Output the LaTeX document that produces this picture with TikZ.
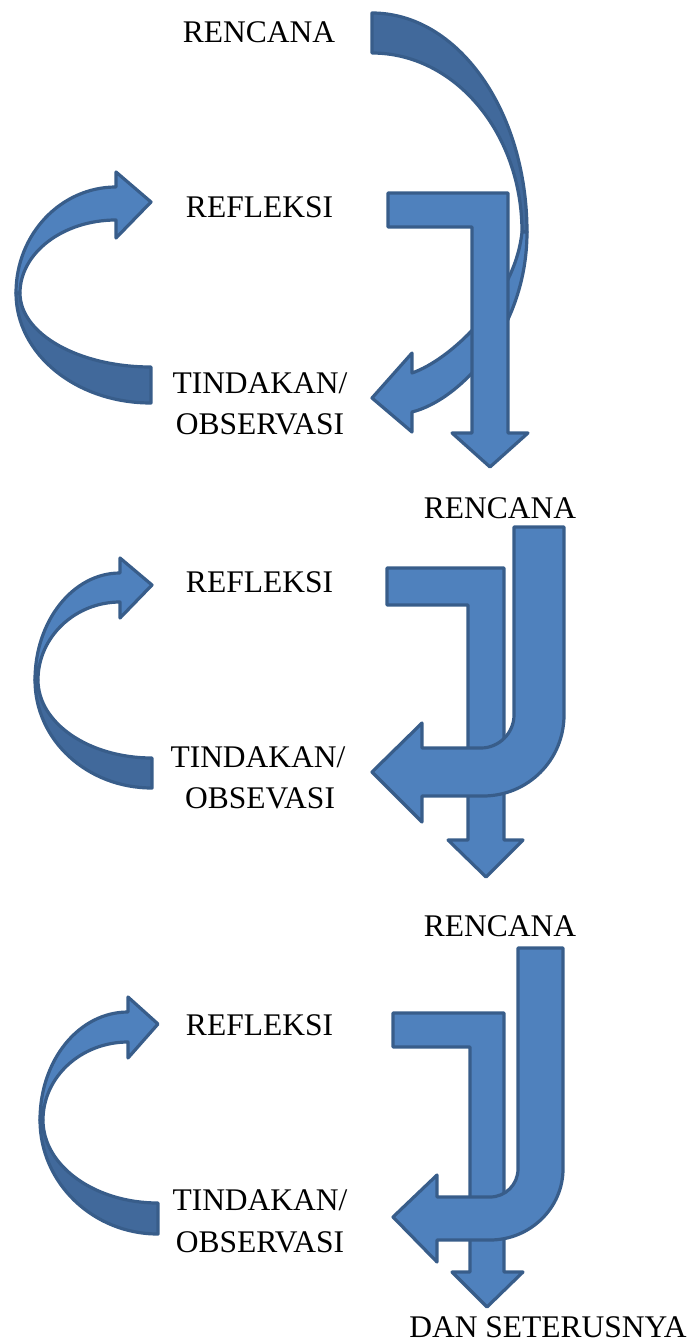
\documentclass[tikz,border=0pt]{standalone}
\usepackage{fontspec}
\setmainfont{Liberation Serif}
\definecolor{frontblue}{HTML}{4F81BD}
\definecolor{backblue}{HTML}{41699B}
\definecolor{edgeblue}{HTML}{385D8A}
\tikzset{
  face/.style={fill=frontblue, draw=edgeblue, line width=3.2pt, line join=round},
  backface/.style={fill=backblue, draw=edgeblue, line width=3.2pt, line join=round},
  lbl/.style={font=\fontsize{31.5}{38}\selectfont, inner sep=0pt, anchor=base, text=black}
}
\begin{document}
\begin{tikzpicture}[x=1pt,y=-1pt]
\useasboundingbox (0,0) rectangle (694,1343);

% ===== Block 1 =====
% top curved arrow (back face)
\path[backface] (372,13) .. controls (458,13) and (527,111) .. (527,232)
  -- (522,232) .. controls (522,133) and (455,53) .. (372,53) -- cycle;
% top curved arrow (front face with head)
\path[face] (527,232) .. controls (527,330) and (460,400) .. (412,412)
  -- (412,432) -- (372,398) -- (412,353) -- (412,373)
  .. controls (450,360) and (515,300) .. (522,232) -- cycle;
% bent arrow
\path[face] (388,193) -- (508,193) -- (508,433) -- (528,433) -- (490,467)
  -- (452,433) -- (472,433) -- (472,227) -- (388,227) -- cycle;
% left curved arrow
\path[backface] (16,293) .. controls (16,354) and (76,403) .. (151,403)
  -- (151,367) .. controls (79,367) and (20,334) .. (20,293) -- cycle;
\path[face] (116,187) .. controls (61,187) and (16,234) .. (16,293)
  -- (20,293) .. controls (20,253) and (63,220) .. (116,220)
  -- (116,238) -- (151,202) -- (116,172) -- cycle;

\node[lbl] (ren1) at (259,43) {RENCANA};
\node[lbl] (ref1) at (259.5,217) {REFLEKSI};
\node[lbl] (tin1) at (260,393) {TINDAKAN/};
\node[lbl] (obs1) at (260,434) {OBSERVASI};

% ===== Block 2 =====
\path[face] (387,568) -- (504,568) -- (504,840) -- (523,840) -- (486,877)
  -- (448,840) -- (468,840) -- (468,605) -- (387,605) -- cycle;
\path[face] (514,527) -- (564,527) -- (564,715) .. controls (564,760) and (528,796) .. (483,796)
  -- (422,796) -- (422,822) -- (372,772) -- (422,723) -- (422,748) -- (481,748)
  .. controls (499,748) and (514,733) .. (514,715) -- cycle;
\path[backface] (35,680) .. controls (35,740) and (87,788) .. (152,788)
  -- (152,758) .. controls (89,758) and (38,723) .. (38,680) -- cycle;
\path[face] (120,573) .. controls (73,573) and (35,621) .. (35,680)
  -- (38,680) .. controls (38,637) and (75,602) .. (120,602)
  -- (120,618) -- (152,585) -- (120,558) -- cycle;

\node[lbl] (ren2) at (500,518) {RENCANA};
\node[lbl] (ref2) at (259.5,592) {REFLEKSI};
\node[lbl] (tin2) at (258,767) {TINDAKAN/};
\node[lbl] (obs2) at (260,808) {OBSEVASI};

% ===== Block 3 =====
\path[face] (393,1013) -- (504,1013) -- (504,1272) -- (523,1272) -- (487,1307)
  -- (452,1272) -- (470,1272) -- (470,1047) -- (393,1047) -- cycle;
\path[face] (518,948) -- (563,948) -- (563,1169) .. controls (563,1208) and (530,1240) .. (490,1240)
  -- (437,1240) -- (437,1262) -- (393,1217) -- (437,1175) -- (437,1197) -- (490,1197)
  .. controls (505.5,1197) and (518,1184.5) .. (518,1169) -- cycle;
\path[backface] (40,1120) .. controls (40,1183) and (93,1234) .. (158,1234)
  -- (158,1203) .. controls (95,1203) and (43,1166) .. (43,1120) -- cycle;
\path[face] (128,1012) .. controls (79,1012) and (40,1060) .. (40,1120)
  -- (43,1120) .. controls (43,1077) and (81,1042) .. (128,1042)
  -- (128,1058) -- (158,1024) -- (128,997) -- cycle;

\node[lbl] (ren3) at (500,936) {RENCANA};
\node[lbl] (ref3) at (259.5,1035) {REFLEKSI};
\node[lbl] (tin3) at (260,1210) {TINDAKAN/};
\node[lbl] (obs3) at (260,1252) {OBSERVASI};
\node[lbl] (dan) at (548,1337) {DAN SETERUSNYA};
\end{tikzpicture}
\end{document}
